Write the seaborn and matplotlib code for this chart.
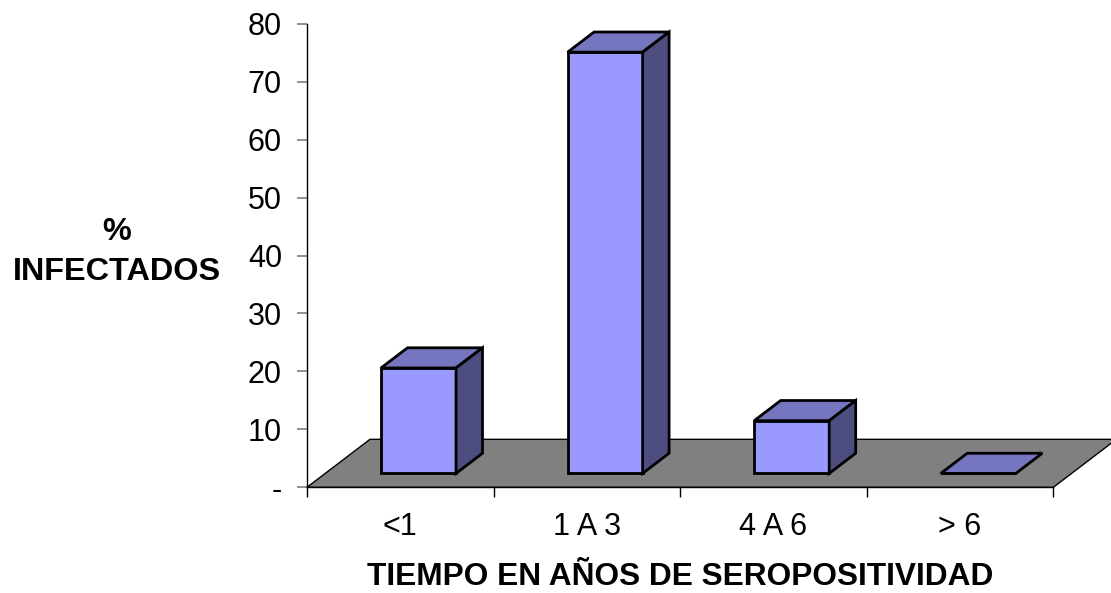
import matplotlib
matplotlib.use("Agg")
import numpy as np
import pandas as pd
import seaborn as sns
import matplotlib.pyplot as plt
from matplotlib.patches import Polygon

# data (2/11, 8/11, 1/11, 0 of infected patients)
categorias = ["<1", "1 A 3", "4 A 6", "> 6"]
porcentaje = [18.2, 72.7, 9.1, 0.0]
yticks = [0, 10, 20, 30, 40, 50, 60, 70, 80]
ytick_labels = ["-", "10", "20", "30", "40", "50", "60", "70", "80"]

# colours of the excel-like 3d look
c_front = "#9999FF"
c_top = "#7676C0"
c_side = "#4D4D80"
c_floor = "#808080"

sns.set_style("white")
plt.rcParams['font.family'] = ['Liberation Sans', 'DejaVu Sans']
plt.rcParams['text.color'] = 'black'
plt.rcParams['axes.labelcolor'] = 'black'
plt.rcParams['xtick.color'] = 'black'
plt.rcParams['ytick.color'] = 'black'

fig = plt.figure(figsize=(11.11, 5.93), dpi=100)
ax = fig.add_axes([0.2763, 0.1782, 0.6718, 0.7817])

df = pd.DataFrame({"tiempo": categorias, "pct": porcentaje})
bar_w = 0.402
lw = 2.0
sns.barplot(data=df, x="tiempo", y="pct", width=bar_w, color=c_front, saturation=1,
            edgecolor="black", linewidth=lw, ax=ax, zorder=3)

ax.set_xlim(-0.5, 3.5)
ax.set_ylim(0, 80)

# depth vector of the floor in data units and where the bars sit in depth
dx, dy = 0.3376, 8.284
f0, f1 = 0.29, 0.71

floor = Polygon([(-0.5, 0), (3.5, 0), (3.5 + dx, dy), (-0.5 + dx, dy)], closed=True,
                facecolor=c_floor, edgecolor="black", linewidth=1.0, zorder=1, clip_on=False)
ax.add_patch(floor)

bars = list(ax.patches)
for p in bars:
    if p is floor:
        continue
    w = p.get_width()
    h = p.get_height()
    x0 = p.get_x() + f0 * dx
    y0 = f0 * dy
    p.set_x(x0)
    p.set_y(y0)
    p.set_joinstyle("miter")
    sdx, sdy = (f1 - f0) * dx, (f1 - f0) * dy
    top = Polygon([(x0, y0 + h), (x0 + w, y0 + h), (x0 + w + sdx, y0 + h + sdy), (x0 + sdx, y0 + h + sdy)],
                  closed=True, facecolor=c_top, edgecolor="black", linewidth=lw, zorder=3,
                  joinstyle="miter")
    ax.add_patch(top)
    if h > 0:
        side = Polygon([(x0 + w, y0), (x0 + w + sdx, y0 + sdy), (x0 + w + sdx, y0 + h + sdy), (x0 + w, y0 + h)],
                       closed=True, facecolor=c_side, edgecolor="black", linewidth=lw, zorder=3,
                       joinstyle="miter")
        ax.add_patch(side)

# axes styling
for s in ["top", "right"]:
    ax.spines[s].set_visible(False)
ax.spines["left"].set_color("black")
ax.spines["bottom"].set_color("black")
ax.spines["left"].set_linewidth(1.0)
ax.spines["bottom"].set_linewidth(1.0)

ax.set_yticks(yticks)
ax.set_yticklabels(ytick_labels)
ax.tick_params(axis="y", left=True, direction="out", length=7, width=1.2, color="#808080",
               labelcolor="black", labelsize=22, pad=11)

ax.set_xticks(range(len(categorias)))
ax.set_xticklabels(categorias)
ax.set_xticks([-0.5, 0.5, 1.5, 2.5, 3.5], minor=True)
ax.tick_params(axis="x", which="major", bottom=True, length=0, labelcolor="black", labelsize=22, pad=18)
ax.tick_params(axis="x", which="minor", bottom=True, direction="out", length=7, width=1, color="black")

ax.set_xlabel("TIEMPO EN AÑOS DE SEROPOSITIVIDAD", fontsize=22.8, fontweight="bold", va="center")
ax.xaxis.set_label_coords(0.5, -0.1935)
ax.set_ylabel("%\nINFECTADOS", fontsize=23.3, fontweight="bold", rotation=0,
              ha="center", va="center", multialignment="center", linespacing=1.45)
ax.yaxis.set_label_coords(-0.2546, 0.5077)

fig.savefig("out.png", dpi=100)
